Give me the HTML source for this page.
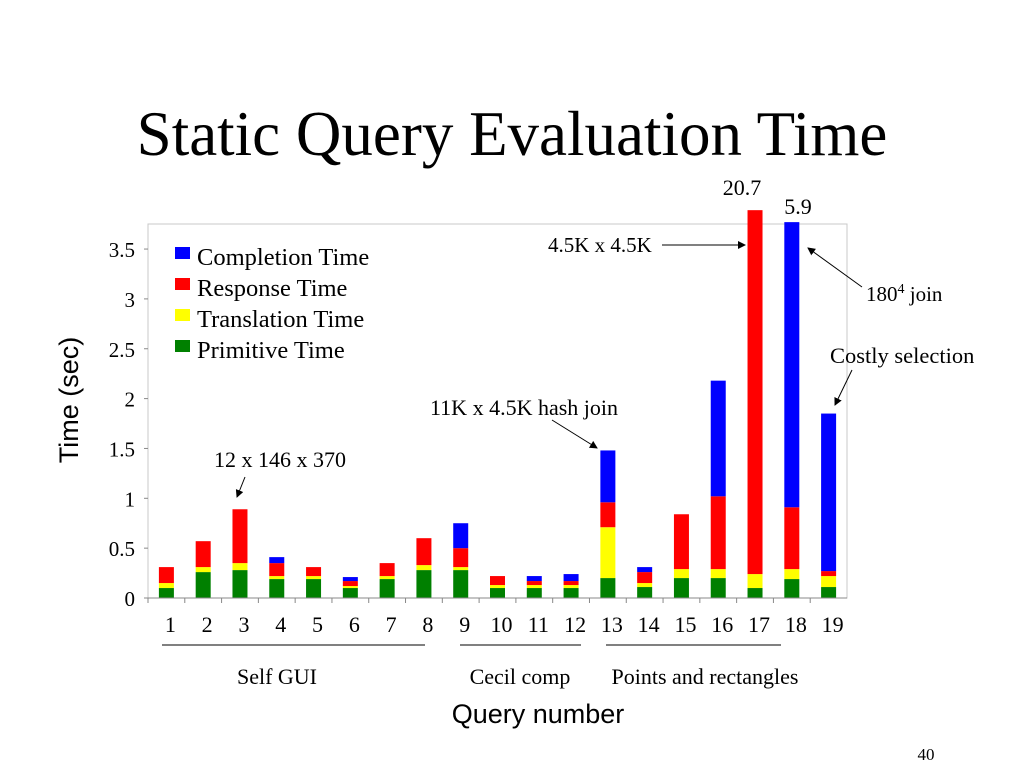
<!DOCTYPE html>
<html><head><meta charset="utf-8"><style>
body{margin:0;background:#fff;width:1024px;height:768px;overflow:hidden}
svg text{font-family:"Liberation Serif",serif;fill:#000}
</style></head><body>
<svg width="1024" height="768">
<text x="512" y="155" font-size="63" text-anchor="middle">Static Query Evaluation Time</text>
<rect x="148" y="224" width="699" height="374" fill="none" stroke="#c8c8c8" stroke-width="1"/>
<g id="yaxis"></g>
<g id="bars"></g>
<g id="xaxis"></g>
<text transform="translate(78,400) rotate(-90)" font-size="27" text-anchor="middle" style="font-family:'Liberation Sans',sans-serif">Time (sec)</text>
<g>
<rect x="175" y="247" width="15" height="12" fill="#0000ff"/><text x="197" y="265" font-size="24.5">Completion Time</text>
<rect x="175" y="278" width="15" height="12" fill="#ff0000"/><text x="197" y="296" font-size="24.5">Response Time</text>
<rect x="175" y="309" width="15" height="12" fill="#ffff00"/><text x="197" y="327" font-size="24.5">Translation Time</text>
<rect x="175" y="340" width="15" height="12" fill="#008000"/><text x="197" y="358" font-size="24.5">Primitive Time</text>
</g>
<defs><marker id="ah" markerWidth="8" markerHeight="8" refX="7" refY="4" orient="auto"><path d="M0,0 L8,4 L0,8 z" fill="#000"/></marker></defs>
<text x="742" y="195" font-size="22" text-anchor="middle">20.7</text>
<text x="798" y="214" font-size="22" text-anchor="middle">5.9</text>
<text x="548" y="252" font-size="21">4.5K x 4.5K</text>
<line x1="662" y1="245" x2="745" y2="245" stroke="#000" marker-end="url(#ah)"/>
<text x="866" y="301" font-size="21">180<tspan font-size="14" dy="-8">4</tspan><tspan dy="8"> join</tspan></text>
<line x1="862" y1="287" x2="808" y2="248" stroke="#000" marker-end="url(#ah)"/>
<text x="830" y="363" font-size="22.5">Costly selection</text>
<line x1="852" y1="370" x2="835" y2="405" stroke="#000" marker-end="url(#ah)"/>
<text x="430" y="415" font-size="22">11K x 4.5K hash join</text>
<line x1="552" y1="420" x2="597" y2="448" stroke="#000" marker-end="url(#ah)"/>
<text x="214" y="467" font-size="22">12 x 146 x 370</text>
<line x1="245" y1="477" x2="237" y2="497" stroke="#000" marker-end="url(#ah)"/>
<line x1="162" y1="645" x2="425" y2="645" stroke="#000"/>
<line x1="460" y1="645" x2="581" y2="645" stroke="#000"/>
<line x1="606" y1="645" x2="781" y2="645" stroke="#000"/>
<text x="277" y="684" font-size="22" text-anchor="middle">Self GUI</text>
<text x="520" y="684" font-size="22" text-anchor="middle">Cecil comp</text>
<text x="705" y="684" font-size="22" text-anchor="middle">Points and rectangles</text>
<text x="538" y="723" font-size="27" text-anchor="middle" style="font-family:'Liberation Sans',sans-serif">Query number</text>
<text x="926" y="760" font-size="17" text-anchor="middle">40</text>
</svg>
<script>
const categories=["1","2","3","4","5","6","7","8","9","10","11","12","13","14","15","16","17","18","19"];
const primitive=[.10,.26,.28,.19,.19,.10,.19,.28,.28,.10,.10,.10,.20,.11,.20,.20,.10,.19,.11];
const translation=[.05,.05,.07,.03,.03,.02,.03,.05,.03,.03,.03,.03,.51,.04,.09,.09,.14,.10,.11];
const response=[.16,.26,.54,.13,.09,.05,.13,.27,.19,.09,.04,.04,.25,.11,.55,.73,3.65,.62,.05];
const completion=[0,0,0,.06,0,.04,0,0,.25,0,.05,.07,.52,.05,0,1.16,0,2.86,1.58];
const yTicks=[0,0.5,1,1.5,2,2.5,3,3.5];
const yTickLabels=["0","0.5","1","1.5","2","2.5","3","3.5"];
const NS="http://www.w3.org/2000/svg";
const L=148,R=847,B=598,PX=99.7,TOP=209;
const band=(R-L)/categories.length;
const y=v=>Math.max(TOP,B-v*PX);
const xc=i=>L+band*(i+0.5);
function mk(tag,at,parent){const e=document.createElementNS(NS,tag);for(const k in at)e.setAttribute(k,at[k]);parent.appendChild(e);return e;}
const ya=document.getElementById('yaxis'),xa=document.getElementById('xaxis'),bg=document.getElementById('bars');
yTicks.forEach((t,i)=>{
 const ln=mk('line',{x1:L-4,x2:L,y1:y(t),y2:y(t),stroke:'#888'},ya);
 
 
 const tx=mk('text',{x:L-13,y:y(t)+8,'font-size':21,'text-anchor':'end'},ya);tx.textContent=yTickLabels[i];
 
 
});
const ax=mk('line',{x1:L,x2:R,y1:B,y2:B,stroke:'#888'},xa);


categories.forEach((c,i)=>{
 const tk=mk('line',{x1:L+band*i,x2:L+band*i,y1:B,y2:B+5,stroke:'#888'},xa);
 
 
 const tx=mk('text',{x:xc(i)+4,y:632,'font-size':22,'text-anchor':'middle'},xa);tx.textContent=c;
 
 
 let base=0;
 [[primitive,'#008000','primitive'],[translation,'#ffff00','translation'],[response,'#ff0000','response'],[completion,'#0000ff','completion']].forEach(([arr,col,nm])=>{
  const v=arr[i];if(v<=0)return;
  const y0=y(base),y1=y(base+v);base+=v;
  const r=mk('rect',{x:xc(i)-7.5,y:y1,width:15,height:Math.max(0,y0-y1),fill:col},bg);
  
  
 });
});
</script>
</body></html>
